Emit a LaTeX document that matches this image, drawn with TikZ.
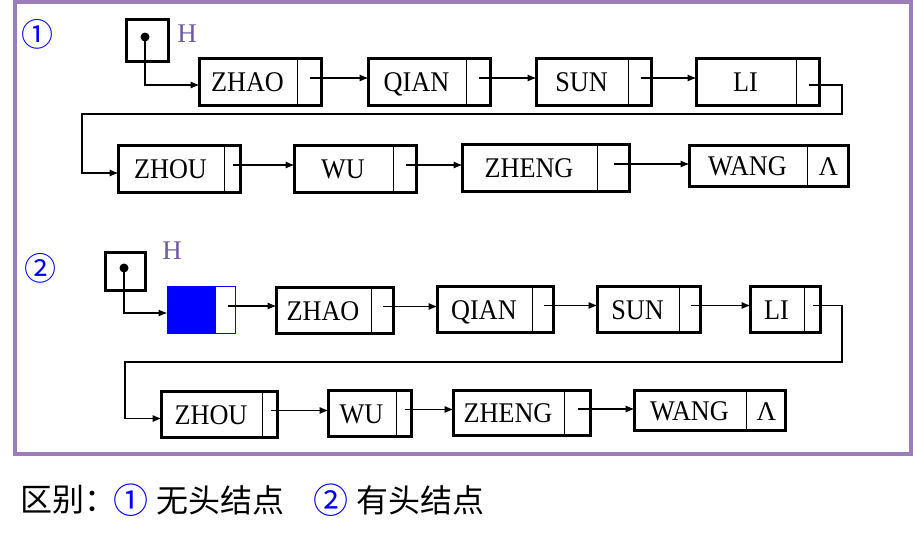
\documentclass[tikz,border=0pt]{standalone}
\usepackage{fontspec}
\setmainfont{Liberation Serif}
\newfontfamily\boxfont[FakeStretch=0.92]{Liberation Serif}
\newfontfamily\cjk{Noto Sans CJK SC}
\usetikzlibrary{arrows.meta}
\definecolor{framecol}{RGB}{155,125,185}
\definecolor{hcol}{RGB}{110,90,160}
\definecolor{numblue}{RGB}{0,0,255}
\tikzset{
  box/.style={draw, line width=3.4pt, inner sep=0pt, outer sep=0pt},
  lbl/.style={font=\boxfont\fontsize{28.5}{28.5}\selectfont, inner sep=0pt, anchor=base},
  nullmark/.style={font=\fontsize{27}{27}\selectfont, inner sep=0pt, anchor=base},
  divline/.style={line width=1pt},
  arr/.style={line width=1.2pt, -{Latex[length=9pt,width=7pt]}},
  hbox/.style={draw, line width=3.2pt, inner sep=0pt, outer sep=0pt},
  hlbl/.style={font=\fontsize{27}{27}\selectfont, text=hcol, inner sep=0pt},
  num/.style={font=\cjk\fontsize{32}{32}\selectfont, text=numblue, inner sep=0pt},
  cjktext/.style={font=\cjk\fontsize{32}{32}\selectfont, inner sep=0pt},
  cjknum/.style={font=\cjk\fontsize{35}{35}\selectfont, text=numblue, inner sep=0pt},
}
\newcommand\lnode[7]{%
  \pgfmathsetmacro\lncx{(#2+#4)/2}%
  \pgfmathsetmacro\lncy{(#3+#5)/2}%
  \pgfmathsetmacro\lntx{(#2+#6)/2}%
  \pgfmathsetmacro\lnpx{(#6+#4)/2}%
  \pgfmathsetmacro\lnw{#4-#2-3.4}%
  \pgfmathsetmacro\lnh{#5-#3-3.4}%
  \node[box, minimum width=\lnw pt, minimum height=\lnh pt] (#1) at (\lncx,\lncy) {};
  \node[lbl] (#1t) at (\lntx,\lncy+9.5) {#7};
  \draw[divline] (#6,#3) -- (#6,#5);
  \coordinate (#1p) at (\lnpx,\lncy-4);
}
\begin{document}
\begin{tikzpicture}[x=1pt,y=-1pt]
\useasboundingbox (0,0) rectangle (913,538);
% frame
\draw[framecol, line width=4pt] (15,2) rectangle (911,454);

% ===== list 1 (no head node) =====
\node[num] (n1) at (37,34) {①};
\node[hbox, minimum width=42pt, minimum height=42pt] (h1) at (147.5,40.5) {};
\coordinate (h1dot) at (145,37);
\fill (h1dot) circle (4.5);
\node[hlbl] (h1l) at (187,34) {H};

\lnode{a1}{198}{57}{323}{107}{297}{ZHAO}
\lnode{a2}{367}{57}{492}{107}{466}{QIAN}
\lnode{a3}{535}{57}{653}{107}{628}{SUN}
\lnode{a4}{695}{57}{821}{107}{796}{LI}
\lnode{b1}{117}{144}{242}{194}{224}{ZHOU}
\lnode{b2}{293}{144}{418}{194}{393}{WU}
\lnode{b3}{461}{143}{631}{193}{597}{ZHENG}
\lnode{b4}{688}{144}{850}{188}{807}{WANG}
\node[nullmark] (b4n) at (828.5,175.5) {Λ};

\draw[arr] (h1dot) |- ([yshift=-3pt]a1.west);
\draw[arr] (a1p) -- (a2.west |- a1p);
\draw[arr] (a2p) -- (a3.west |- a2p);
\draw[arr] (a3p) -- (a4.west |- a3p);
\coordinate (w1a) at (842,114);
\coordinate (w1b) at (82,114);
\draw[arr] ([yshift=-7pt]a4p) -| (w1a) -- (w1b) |- ([yshift=-4pt]b1.west);
\draw[arr] (b1p) -- (b2.west |- b1p);
\draw[arr] (b2p) -- (b3.west |- b2p);
\draw[arr] (b3p) -- (b4.west |- b3p);

% ===== list 2 (with head node) =====
\node[num] (n2) at (40,268) {②};
\node[hbox, minimum width=40pt, minimum height=38pt] (h2) at (125.5,271.5) {};
\coordinate (h2dot) at (124,268);
\fill (h2dot) circle (4.5);
\node[hlbl] (h2l) at (172,251) {H};

\node[draw=numblue, line width=1pt, inner sep=0pt, outer sep=0pt,
      minimum width=68pt, minimum height=47pt,
      path picture={\fill[numblue] (path picture bounding box.south west) rectangle ([xshift=-20pt]path picture bounding box.north east);}]
      (hn) at (201.5,310) {};
\coordinate (hnp) at (228,306);

\lnode{c1}{275}{286}{395}{335}{371}{ZHAO}
\lnode{c2}{436}{285}{555}{334}{532}{QIAN}
\lnode{c3}{596}{285}{702}{334}{679}{SUN}
\lnode{c4}{749}{285}{822}{334}{804}{LI}
\lnode{d1}{160}{390}{279}{439}{262}{ZHOU}
\lnode{d2}{327}{389}{413}{438}{396}{WU}
\lnode{d3}{452}{389}{592}{437}{564}{ZHENG}
\lnode{d4}{633}{389}{787}{432}{746}{WANG}
\node[nullmark] (d4n) at (766.5,420) {Λ};

\draw[arr] (h2dot) |- ([yshift=-3pt]hn.west);
\draw[arr] (hnp) -- (c1.west |- hnp);
\draw[arr] (c1p) -- (c2.west |- c1p);
\draw[arr] (c2p) -- (c3.west |- c2p);
\draw[arr] (c3p) -- (c4.west |- c3p);
\coordinate (w2a) at (842,362);
\coordinate (w2b) at (125,362);
\draw[arr] (c4p) -| (w2a) -- (w2b) |- ([yshift=-4pt]d1.west);
\draw[arr] (d1p) -- (d2.west |- d1p);
\draw[arr] (d2p) -- (d3.west |- d2p);
\draw[arr] (d3p) -- (d4.west |- d3p);

% ===== caption =====
\node[cjktext, anchor=west] (t1) at (20,500) {区别：};
\node[cjknum] (t2) at (131,500) {①};
\node[cjktext, anchor=west] (t3) at (156,500) {无头结点};
\node[cjknum] (t4) at (331,500) {②};
\node[cjktext, anchor=west] (t5) at (356,500) {有头结点};
\end{tikzpicture}
\end{document}
